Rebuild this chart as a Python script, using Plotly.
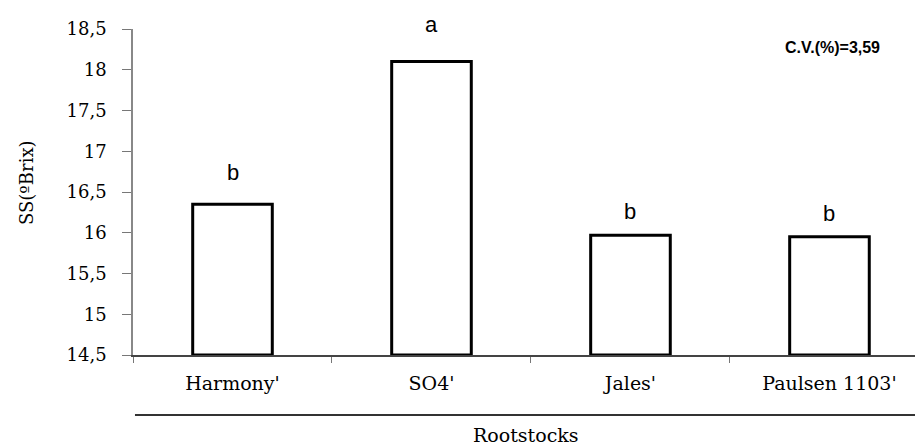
import plotly.graph_objects as go

categories = ["Harmony'", "SO4'", "Jales'", "Paulsen 1103'"]
values = [16.35, 18.1, 15.97, 15.95]
letters = ["b", "a", "b", "b"]
y_ticks = [14.5, 15, 15.5, 16, 16.5, 17, 17.5, 18, 18.5]
y_tick_text = ["14,5", "15", "15,5", "16", "16,5", "17", "17,5", "18", "18,5"]

serif = "DejaVu Serif, Liberation Serif, serif"
sans = "Liberation Sans, Arial, sans-serif"

letter_shift = [17, 23, 9, 9]

fig = go.Figure()
fig.add_trace(go.Bar(
    x=categories, y=[v - 14.5 for v in values], base=14.5,
    width=0.40,
    marker=dict(color="white", line=dict(color="black", width=3)),
    hoverinfo="skip",
))

for c, v, l, s in zip(categories, values, letters, letter_shift):
    fig.add_annotation(x=c, y=v, text=l, showarrow=False, yanchor="bottom",
                       yshift=s, font=dict(family=sans, size=22, color="black"))

fig.add_annotation(xref="paper", yref="paper", x=0.885, y=0.942, text="<b>C.V.(%)=3,59</b>",
                   showarrow=False, xanchor="center", yanchor="middle",
                   font=dict(family=sans, size=16, color="black"))

fig.add_annotation(xref="paper", yref="paper", x=-0.134, y=0.528, text="SS(ºBrix)",
                   textangle=-90, showarrow=False, xanchor="center", yanchor="middle",
                   font=dict(family=serif, size=18, color="black"))

fig.add_annotation(xref="paper", yref="paper", x=0.497, y=-0.245, text="Rootstocks",
                   showarrow=False, xanchor="center", yanchor="middle",
                   font=dict(family=serif, size=19, color="black"))

fig.add_shape(type="line", xref="paper", yref="paper", x0=0.0025, x1=0.992, y0=-0.184, y1=-0.184,
              line=dict(color="#333", width=2))

fig.update_layout(
    width=915, height=439,
    margin=dict(l=125, r=0, t=21, b=92),
    paper_bgcolor="white", plot_bgcolor="white",
    showlegend=False,
    xaxis=dict(
        range=[-0.5, 3.47], showline=True, linecolor="#444", linewidth=1.5,
        ticks="outside", tickson="boundaries", ticklen=6, tickcolor="#777",
        ticklabelstandoff=10,
        tickfont=dict(family=serif, size=19, color="black"),
        showgrid=False, zeroline=False, fixedrange=True,
    ),
    yaxis=dict(
        range=[14.5, 18.5], tickvals=y_ticks, ticktext=y_tick_text,
        showline=True, linecolor="#888", linewidth=1.5,
        ticks="outside", ticklen=9, tickcolor="#777",
        ticklabelstandoff=12,
        tickfont=dict(family=serif, size=18, color="black"),
        showgrid=False, zeroline=False, fixedrange=True,
    ),
)

fig.write_html("out.html")
